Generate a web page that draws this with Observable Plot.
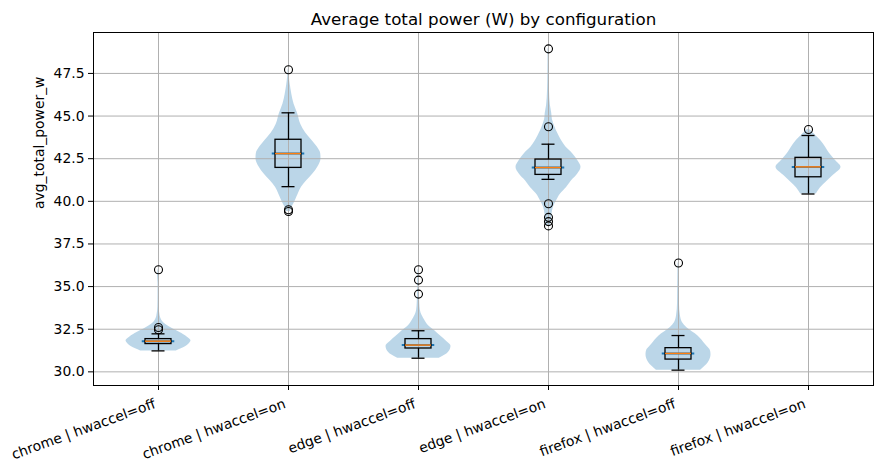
<!DOCTYPE html>
<html>
<head>
<meta charset="utf-8">
<script src="https://cdn.jsdelivr.net/npm/d3@7"></script>
<script src="https://cdn.jsdelivr.net/npm/@observablehq/plot@0.6"></script>
<style>
  html, body { margin: 0; padding: 0; background: white; }
  #chart svg { display: block; }
</style>
</head>
<body>
<div id="chart"></div>
<script>
// ---- Data ----
const categories = [
  "chrome | hwaccel=off", "chrome | hwaccel=on",
  "edge | hwaccel=off", "edge | hwaccel=on",
  "firefox | hwaccel=off", "firefox | hwaccel=on"
];
const whiskerLow  = [31.23, 40.86, 30.80, 41.29, 30.10, 40.43];
const q1          = [31.63, 41.96, 31.37, 41.55, 30.72, 41.41];
const medians     = [31.80, 42.80, 31.57, 41.98, 31.08, 42.02];
const q3          = [31.92, 43.61, 31.92, 42.45, 31.39, 42.55];
const whiskerHigh = [32.23, 45.19, 32.41, 43.35, 32.13, 43.86];
const outliers = [
  [32.47, 32.60, 35.99],
  [39.40, 39.51, 47.72],
  [34.56, 35.38, 35.99],
  [38.56, 38.81, 39.06, 39.86, 44.37, 48.94],
  [36.38],
  [44.21]
];
// violin density profiles: [value, relative half-width (1 = widest)]
const chromeOffProfile = [[31.23,0.55],[31.47,0.83],[31.70,0.97],[31.82,1.0],[32.05,0.88],[32.31,0.66],[32.6,0.37],[32.9,0.15],[33.29,0.05],[33.8,0.02],[34.5,0.015],[35.2,0.015],[35.6,0.03],[35.99,0.015]];
const chromeOnProfile  = [[39.40,0.06],[39.7,0.12],[40.04,0.21],[40.43,0.3],[40.82,0.4],[41.2,0.56],[41.6,0.75],[42.0,0.9],[42.5,1.0],[42.8,0.99],[43.2,0.88],[43.6,0.71],[44.0,0.53],[44.5,0.38],[45.15,0.28],[45.7,0.17],[46.3,0.1],[46.9,0.05],[47.3,0.025],[47.72,0.015]];
const edgeOffProfile   = [[30.80,0.64],[31.13,0.92],[31.5,1.0],[31.8,0.86],[32.1,0.68],[32.41,0.5],[32.7,0.31],[33.0,0.2],[33.3,0.11],[33.58,0.06],[34.0,0.04],[34.56,0.03],[35.0,0.025],[35.4,0.025],[35.99,0.015]];
const edgeOnProfile    = [[38.56,0.06],[38.87,0.09],[39.25,0.11],[39.65,0.15],[40.0,0.24],[40.43,0.37],[40.8,0.55],[41.2,0.71],[41.6,0.9],[42.0,1.0],[42.4,0.9],[42.78,0.75],[43.2,0.53],[43.56,0.4],[44.0,0.28],[44.35,0.2],[44.8,0.12],[45.15,0.1],[45.6,0.06],[46.5,0.03],[47.5,0.02],[48.94,0.015]];
const firefoxOffProfile= [[30.10,0.68],[30.55,0.92],[31.0,1.0],[31.2,0.99],[31.6,0.83],[32.11,0.6],[32.6,0.25],[32.9,0.12],[33.29,0.06],[34.0,0.03],[34.87,0.025],[35.6,0.02],[36.38,0.015]];
const firefoxOnProfile = [[40.43,0.24],[40.8,0.37],[41.12,0.54],[41.5,0.75],[42.0,1.0],[42.4,0.83],[42.8,0.65],[43.27,0.49],[43.6,0.36],[43.86,0.22],[44.05,0.12],[44.21,0.03]];
const profiles = [chromeOffProfile, chromeOnProfile, edgeOffProfile, edgeOnProfile, firefoxOffProfile, firefoxOnProfile];
const yTicks = [30.0, 32.5, 35.0, 37.5, 40.0, 42.5, 45.0, 47.5];
const xTicks = [1, 2, 3, 4, 5, 6];

// ---- Derived tables ----
const violinRows = profiles.flatMap((p, i) => p.map(([v, w]) => ({pos: i + 1, v, w})));
const boxRows = categories.map((c, i) => ({
  pos: i + 1, lo: whiskerLow[i], q1: q1[i], med: medians[i], q3: q3[i], hi: whiskerHigh[i]
}));
const outlierRows = outliers.flatMap((o, i) => o.map(v => ({pos: i + 1, v})));

const VW = 0.25;  // violin half width (widths=0.5)
const BW = 0.1;   // box half width
const CW = 0.05;  // cap half width
const FS = 13.9;  // tick / label font size

const chart = Plot.plot({
  width: 883,
  height: 470,
  marginLeft: 93,
  marginRight: 10,
  marginTop: 32,
  marginBottom: 85,
  style: {fontFamily: "'DejaVu Sans', sans-serif", fontSize: FS + "px", color: "black", background: "white", overflow: "visible"},
  x: {type: "linear", domain: [0.5, 6.5]},
  y: {type: "linear", domain: [29.2, 49.9]},
  marks: [
    // violins
    Plot.areaX(violinRows, {
      y: "v", x1: d => d.pos - VW * d.w, x2: d => d.pos + VW * d.w, z: "pos",
      curve: "monotone-y", fill: "#1f77b4", fillOpacity: 0.3
    }),
    // grid
    Plot.gridX(xTicks, {stroke: "#b0b0b0", strokeOpacity: 1, strokeWidth: 1}),
    Plot.gridY(yTicks, {stroke: "#b0b0b0", strokeOpacity: 1, strokeWidth: 1}),
    // violin medians
    Plot.ruleY(boxRows, {y: "med", x1: d => d.pos - VW / 2, x2: d => d.pos + VW / 2, stroke: "#1f77b4", strokeWidth: 2}),
    // whiskers
    Plot.ruleX(boxRows, {x: "pos", y1: "q3", y2: "hi", stroke: "black", strokeWidth: 1.3}),
    Plot.ruleX(boxRows, {x: "pos", y1: "q1", y2: "lo", stroke: "black", strokeWidth: 1.3}),
    // caps
    Plot.ruleY(boxRows, {y: "hi", x1: d => d.pos - CW, x2: d => d.pos + CW, stroke: "black", strokeWidth: 1.3}),
    Plot.ruleY(boxRows, {y: "lo", x1: d => d.pos - CW, x2: d => d.pos + CW, stroke: "black", strokeWidth: 1.3}),
    // boxes
    Plot.rect(boxRows, {x1: d => d.pos - BW, x2: d => d.pos + BW, y1: "q1", y2: "q3", fill: "none", stroke: "black", strokeWidth: 1.3}),
    // box medians
    Plot.ruleY(boxRows, {y: "med", x1: d => d.pos - BW, x2: d => d.pos + BW, stroke: "#ff7f0e", strokeWidth: 1.5}),
    // fliers
    Plot.dot(outlierRows, {x: "pos", y: "v", r: 4, fill: "none", stroke: "black", strokeWidth: 1.1}),
    // frame
    Plot.frame({stroke: "black", strokeWidth: 1}),
    // axes
    Plot.axisY({ticks: yTicks, tickFormat: d => d.toFixed(1), tickSize: 5, tickPadding: 4, label: null, fontSize: FS}),
    Plot.axisX({ticks: xTicks, tickFormat: () => "", tickSize: 5, label: null}),
    Plot.text(categories, {
      x: (d, i) => i + 1, frameAnchor: "bottom", rotate: -20, textAnchor: "end",
      lineAnchor: "bottom", dy: 22, dx: -2, fontSize: FS, fill: "black"
    }),
    Plot.text(["avg_total_power_w"], {frameAnchor: "left", rotate: -90, lineAnchor: "middle", dx: -54, fontSize: FS, fill: "black"}),
    Plot.text(["Average total power (W) by configuration"], {frameAnchor: "top", lineAnchor: "middle", dy: -13, fontSize: 16.7, fill: "black"})
  ]
});
document.getElementById("chart").appendChild(chart);
</script>
</body>
</html>
